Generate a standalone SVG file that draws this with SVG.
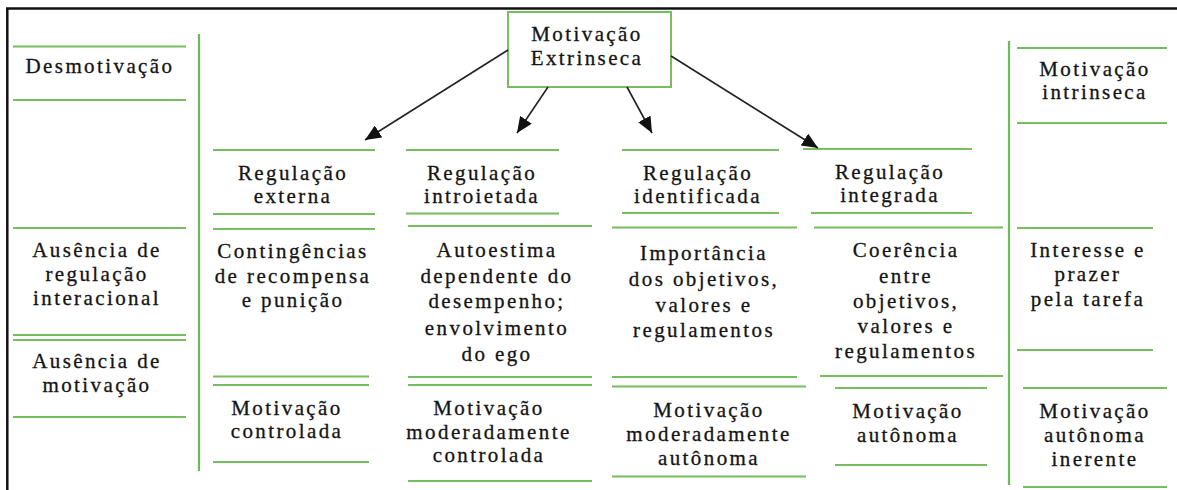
<svg xmlns="http://www.w3.org/2000/svg" width="1177" height="490" viewBox="0 0 1177 490">
<style>
.g{stroke:#77bc5f;stroke-width:2;fill:none}
.v{stroke:#6cbb5a;stroke-width:2.2;fill:none}
.b{stroke:#111;stroke-width:2.5;fill:none}
.c{stroke:#222;stroke-width:1.6;fill:none}
text{font-family:"Liberation Serif","Times New Roman",serif;font-size:21px;fill:#141414;stroke:#141414;stroke-width:0.3;text-anchor:middle;letter-spacing:2.4px}
</style>
<defs>
<marker id="ah" markerUnits="userSpaceOnUse" markerWidth="16" markerHeight="14" refX="16" refY="7" orient="auto">
<path d="M0,0 L16,7 L0,14 z" fill="#111"/>
</marker>
</defs>
<rect x="0" y="0" width="1177" height="490" fill="#fff"/>
<g id="frame">
<line class="b" x1="6" y1="8.5" x2="1177" y2="8.5"/>
<line class="b" x1="7.3" y1="8" x2="7.3" y2="490"/>
</g>
<g id="dividers">
<line class="v" x1="199" y1="34" x2="199" y2="471"/>
<line class="v" x1="1009" y1="41" x2="1009" y2="485"/>
</g>
<g id="desmotivacao">
<line class="g" x1="13" y1="46.5" x2="186" y2="46.5"/>
<text x="100" y="73">Desmotivação</text>
<line class="g" x1="13" y1="100" x2="186" y2="100"/>
</g>
<g id="ausencia-regulacao">
<line class="g" x1="13" y1="228" x2="186" y2="228"/>
<text x="97" y="257">Ausência de</text>
<text x="97" y="281">regulação</text>
<text x="97" y="305">interacional</text>
<line class="g" x1="13" y1="335" x2="186" y2="335"/>
</g>
<g id="ausencia-motivacao">
<line class="g" x1="13" y1="340" x2="186" y2="340"/>
<text x="97" y="368">Ausência de</text>
<text x="97" y="392">motivação</text>
<line class="g" x1="13" y1="417" x2="186" y2="417"/>
</g>
<g id="motivacao-extrinseca">
<rect x="508" y="12" width="163" height="75" fill="#fff" stroke="#77bc5f" stroke-width="2"/>
<text x="587" y="41">Motivação</text>
<text x="587" y="65">Extrinseca</text>
</g>
<g id="regulacao-externa">
<line class="g" x1="213" y1="150" x2="375" y2="150"/>
<text x="293" y="180">Regulação</text>
<text x="293" y="203">externa</text>
<line class="g" x1="213" y1="214" x2="375" y2="214"/>
</g>
<g id="contingencias">
<line class="g" x1="213" y1="229" x2="375" y2="229"/>
<text x="293" y="258">Contingências</text>
<text x="293" y="283">de recompensa</text>
<text x="293" y="307">e punição</text>
<line class="g" x1="213" y1="376.5" x2="369" y2="376.5"/>
</g>
<g id="motivacao-controlada">
<line class="g" x1="213" y1="385" x2="369" y2="385"/>
<text x="287" y="415">Motivação</text>
<text x="287" y="438">controlada</text>
<line class="g" x1="213" y1="462" x2="369" y2="462"/>
</g>
<g id="regulacao-introietada">
<line class="g" x1="406" y1="150" x2="559" y2="150"/>
<text x="482" y="180">Regulação</text>
<text x="482" y="203">introietada</text>
<line class="g" x1="406" y1="213.5" x2="559" y2="213.5"/>
</g>
<g id="autoestima">
<line class="g" x1="408" y1="226" x2="592" y2="226"/>
<text x="497" y="257">Autoestima</text>
<text x="497" y="283">dependente do</text>
<text x="497" y="308">desempenho;</text>
<text x="497" y="335">envolvimento</text>
<text x="497" y="361">do ego</text>
<line class="g" x1="408" y1="377" x2="592" y2="377"/>
</g>
<g id="motivacao-moderadamente-controlada">
<line class="g" x1="408" y1="385" x2="592" y2="385"/>
<text x="489" y="415">Motivação</text>
<text x="489" y="439">moderadamente</text>
<text x="489" y="462">controlada</text>
<line class="g" x1="408" y1="481" x2="592" y2="481"/>
</g>
<g id="regulacao-identificada">
<line class="g" x1="622" y1="150" x2="779" y2="150"/>
<text x="698" y="180">Regulação</text>
<text x="698" y="203">identificada</text>
<line class="g" x1="622" y1="213" x2="779" y2="213"/>
</g>
<g id="importancia">
<line class="g" x1="612" y1="227.5" x2="797" y2="227.5"/>
<text x="704" y="260">Importância</text>
<text x="704" y="286">dos objetivos,</text>
<text x="704" y="312">valores e</text>
<text x="704" y="337">regulamentos</text>
<line class="g" x1="612" y1="377" x2="797" y2="377"/>
</g>
<g id="motivacao-moderadamente-autonoma">
<line class="g" x1="612" y1="386.5" x2="806" y2="386.5"/>
<text x="709" y="417">Motivação</text>
<text x="709" y="441">moderadamente</text>
<text x="709" y="465">autônoma</text>
<line class="g" x1="612" y1="476.5" x2="806" y2="476.5"/>
</g>
<g id="regulacao-integrada">
<line class="g" x1="803" y1="149" x2="972" y2="149"/>
<text x="890" y="179">Regulação</text>
<text x="890" y="202">integrada</text>
<line class="g" x1="811" y1="213" x2="972" y2="213"/>
</g>
<g id="coerencia">
<line class="g" x1="814" y1="227.5" x2="1003" y2="227.5"/>
<text x="906" y="257">Coerência</text>
<text x="906" y="283">entre</text>
<text x="906" y="308">objetivos,</text>
<text x="906" y="333">valores e</text>
<text x="906" y="358">regulamentos</text>
<line class="g" x1="820" y1="376" x2="1003" y2="376"/>
</g>
<g id="motivacao-autonoma">
<line class="g" x1="835" y1="388" x2="987" y2="388"/>
<text x="908" y="418">Motivação</text>
<text x="908" y="442">autônoma</text>
<line class="g" x1="835" y1="465" x2="987" y2="465"/>
</g>
<g id="motivacao-intrinseca">
<line class="g" x1="1017" y1="48" x2="1167" y2="48"/>
<text x="1095" y="76">Motivação</text>
<text x="1095" y="99">intrinseca</text>
<line class="g" x1="1017" y1="123" x2="1167" y2="123"/>
</g>
<g id="interesse">
<line class="g" x1="1017" y1="228" x2="1153" y2="228"/>
<text x="1088" y="257">Interesse e</text>
<text x="1088" y="281">prazer</text>
<text x="1088" y="306">pela tarefa</text>
<line class="g" x1="1017" y1="350" x2="1153" y2="350"/>
</g>
<g id="motivacao-autonoma-inerente">
<line class="g" x1="1023" y1="388" x2="1167" y2="388"/>
<text x="1095" y="418">Motivação</text>
<text x="1095" y="442">autônoma</text>
<text x="1095" y="466">inerente</text>
<line class="g" x1="1023" y1="487" x2="1167" y2="487"/>
</g>
<g id="connectors">
<line class="c" x1="508" y1="50" x2="365" y2="140" marker-end="url(#ah)"/>
<line class="c" x1="548" y1="87" x2="517" y2="133" marker-end="url(#ah)"/>
<line class="c" x1="627" y1="87" x2="652" y2="133" marker-end="url(#ah)"/>
<line class="c" x1="671" y1="56" x2="818" y2="148" marker-end="url(#ah)"/>
</g>
</svg>
